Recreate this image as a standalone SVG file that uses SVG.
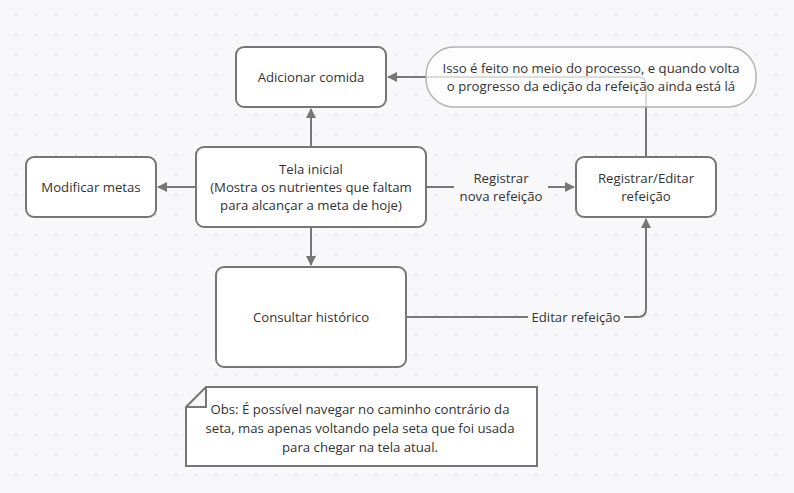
<svg xmlns="http://www.w3.org/2000/svg" width="794" height="493" viewBox="0 0 794 493">
<defs>
<pattern id="dots" x="0" y="0" width="20" height="20" patternUnits="userSpaceOnUse">
<circle cx="16" cy="15" r="0.9" fill="#dcdce0"/>
</pattern>
<marker id="arr" viewBox="0 0 10 10" refX="9" refY="5" markerWidth="10" markerHeight="10" markerUnits="userSpaceOnUse" orient="auto">
<path d="M0,0 L10,5 L0,10 z" fill="#777777"/>
</marker>
<style>
.box{fill:#ffffff;stroke:#777777;stroke-width:2}
.t{font-family:"Open Sans","Noto Sans","DejaVu Sans",sans-serif;font-size:13.2px;fill:#333333;text-anchor:middle}
.c{fill:none;stroke:#777777;stroke-width:2}
.lbl{fill:#f8f8fa}
</style>
</defs>
<rect width="794" height="493" fill="#f8f8fa"/>
<rect width="794" height="493" fill="url(#dots)"/>
<g id="connectors">
<path class="c" d="M311,147 V109" marker-end="url(#arr)"/>
<path class="c" d="M196,187 H158" marker-end="url(#arr)"/>
<path class="c" d="M311,227 V265" marker-end="url(#arr)"/>
<path class="c" d="M426,187 H574" marker-end="url(#arr)"/>
<rect class="lbl" x="454" y="168" width="94" height="38"/>
<text class="t" x="501" y="183">Registrar</text>
<text class="t" x="501" y="201">nova refeição</text>
<path class="c" d="M646,157 V85 Q646,77 638,77 H388" marker-end="url(#arr)"/>
<path class="c" d="M406,317 H638 Q646,317 646,309 V219" marker-end="url(#arr)"/>
<rect class="lbl" x="528" y="308" width="96" height="18"/>
<text class="t" x="576" y="322">Editar refeição</text>
</g>
<g id="adicionar">
<rect class="box" x="236" y="47" width="150" height="60" rx="8"/>
<text class="t" x="311" y="82">Adicionar comida</text>
</g>
<g id="modificar">
<rect class="box" x="26" y="157" width="130" height="60" rx="8"/>
<text class="t" x="91" y="192">Modificar metas</text>
</g>
<g id="tela">
<rect class="box" x="196" y="147" width="230" height="80" rx="8"/>
<text class="t" x="311" y="174">Tela inicial</text>
<text class="t" x="311" y="192">(Mostra os nutrientes que faltam</text>
<text class="t" x="311" y="210">para alcançar a meta de hoje)</text>
</g>
<g id="registrar">
<rect class="box" x="576" y="157" width="140" height="60" rx="8"/>
<text class="t" x="646" y="183">Registrar/Editar</text>
<text class="t" x="646" y="201">refeição</text>
</g>
<g id="consultar">
<rect class="box" x="216" y="267" width="190" height="100" rx="8"/>
<text class="t" x="311" y="322">Consultar histórico</text>
</g>
<g id="nota">
<rect x="426" y="47" width="330" height="60" rx="28" fill="#ffffff" fill-opacity="0.75" stroke="#b4b4b4" stroke-width="1.5"/>
<text class="t" x="591" y="73">Isso é feito no meio do processo, e quando volta</text>
<text class="t" x="591" y="91">o progresso da edição da refeição ainda está lá</text>
</g>
<g id="obs">
<path d="M206,387 H537 V466 H186 V407 Z M186,407 H206 V387" fill="#ffffff" stroke="#777777" stroke-width="2"/>
<text class="t" x="360" y="414">Obs: É possível navegar no caminho contrário da</text>
<text class="t" x="360" y="433">seta, mas apenas voltando pela seta que foi usada</text>
<text class="t" x="360" y="452">para chegar na tela atual.</text>
</g>
</svg>
